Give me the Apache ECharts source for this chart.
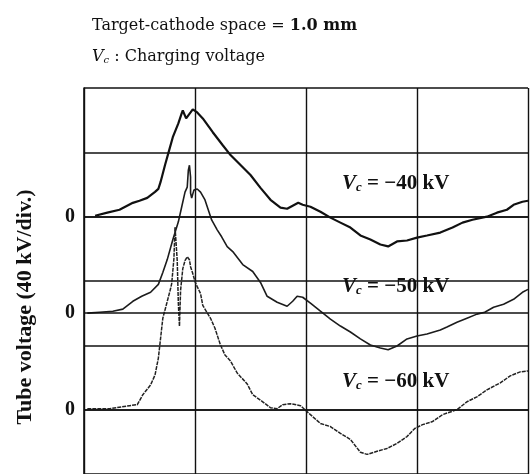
<!DOCTYPE html>
<html>
<head>
<meta charset="utf-8">
<script src="https://cdn.jsdelivr.net/npm/echarts@6/dist/echarts.min.js"></script>
<style>
  html, body { margin: 0; padding: 0; background: #fff; }
  #main { width: 530px; height: 474px; }
</style>
</head>
<body>
<div id="main"></div>
<script>
// time in divisions, tube voltage in kV (relative to each trace's own 0 line)
const t40 = [0.10, 0.21, 0.32, 0.44, 0.50, 0.57, 0.64, 0.67, 0.69, 0.73, 0.76, 0.80, 0.85, 0.88, 0.89, 0.92, 0.94, 0.96, 0.98, 1.02, 1.07, 1.16, 1.25, 1.32, 1.41, 1.50, 1.59, 1.68, 1.77, 1.83, 1.88, 1.93, 1.97, 2.04, 2.13, 2.22, 2.31, 2.40, 2.49, 2.58, 2.67, 2.74, 2.82, 2.91, 3.00, 3.09, 3.21, 3.32, 3.41, 3.50, 3.63, 3.72, 3.81, 3.87, 3.95, 4.00];
const v40 = [0.6, 2.5, 4.3, 8.6, 9.9, 11.7, 15.4, 17.3, 21.6, 32.1, 39.5, 49.4, 58.0, 64.2, 66.0, 61.1, 63.0, 64.8, 66.7, 64.8, 61.1, 52.5, 44.4, 38.3, 32.1, 25.9, 17.9, 10.5, 5.6, 4.9, 6.8, 8.6, 7.4, 6.2, 3.1, -0.6, -3.7, -6.8, -11.7, -14.2, -17.3, -18.5, -15.4, -14.8, -13.0, -11.7, -9.9, -6.8, -3.7, -1.9, 0, 2.5, 4.3, 7.4, 9.3, 9.9];

const t50 = [0.03, 0.14, 0.26, 0.35, 0.44, 0.52, 0.60, 0.67, 0.71, 0.75, 0.80, 0.85, 0.88, 0.91, 0.93, 0.94, 0.95, 0.96, 0.96, 0.97, 0.99, 1.02, 1.05, 1.09, 1.12, 1.15, 1.20, 1.24, 1.29, 1.34, 1.43, 1.52, 1.59, 1.65, 1.74, 1.83, 1.88, 1.92, 1.97, 2.04, 2.13, 2.22, 2.31, 2.40, 2.49, 2.58, 2.67, 2.74, 2.82, 2.91, 3.00, 3.09, 3.21, 3.27, 3.36, 3.45, 3.54, 3.61, 3.69, 3.78, 3.87, 3.95, 4.00];
const v50 = [0, 0.6, 1.2, 2.5, 7.4, 10.5, 13.0, 17.9, 25.3, 33.3, 45.7, 56.8, 66.0, 75.3, 78.4, 88.9, 92.0, 84.6, 74.7, 71.6, 76.5, 77.2, 75.3, 70.4, 64.2, 58.0, 51.8, 47.5, 41.4, 38.3, 30.2, 25.9, 19.1, 10.5, 6.8, 4.3, 7.4, 10.5, 9.9, 6.2, 1.2, -3.7, -8.0, -11.7, -16.0, -19.8, -21.6, -22.8, -20.4, -16.0, -14.2, -13.0, -10.5, -8.6, -5.6, -3.1, -0.6, 0.6, 3.7, 5.6, 8.6, 13.0, 14.8];

const t60 = [0.03, 0.23, 0.41, 0.48, 0.53, 0.60, 0.64, 0.67, 0.69, 0.71, 0.75, 0.78, 0.79, 0.81, 0.82, 0.84, 0.85, 0.86, 0.87, 0.89, 0.91, 0.93, 0.95, 0.96, 0.98, 1.00, 1.02, 1.05, 1.07, 1.14, 1.18, 1.23, 1.27, 1.32, 1.38, 1.47, 1.52, 1.61, 1.68, 1.74, 1.79, 1.86, 1.95, 1.99, 2.04, 2.13, 2.22, 2.31, 2.40, 2.49, 2.55, 2.64, 2.73, 2.82, 2.91, 2.98, 3.05, 3.14, 3.23, 3.36, 3.45, 3.54, 3.63, 3.75, 3.84, 3.93, 4.00];
const v60 = [0.6, 0.6, 2.5, 3.1, 9.3, 15.4, 21.6, 32.1, 44.4, 56.8, 67.3, 75.3, 78.4, 93.8, 113.6, 92.6, 66.0, 51.9, 74.1, 87.7, 92.6, 95.1, 93.2, 88.9, 84.6, 79.6, 76.5, 72.2, 64.8, 56.8, 50.6, 40.1, 34.0, 30.2, 22.8, 16.0, 9.3, 4.9, 1.2, 0.6, 3.1, 3.7, 2.5, 0, -3.1, -8.6, -10.5, -14.8, -18.5, -26.5, -27.8, -25.9, -24.1, -21.0, -16.7, -11.7, -9.3, -7.4, -3.1, 0, 4.9, 8.0, 12.3, 16.7, 21.0, 23.5, 24.1];

const seriesNames = ['Vc = -40 kV', 'Vc = -50 kV', 'Vc = -60 kV'];

const serif = '"DejaVu Serif", serif';          // headings (Century-like)
const times = '"Liberation Serif", serif';      // labels inside the plot

// each trace sits on its own 0 line, 40 kV per division
const baseline = [160, 100, 40];
const traces = [[t40, v40], [t50, v50], [t60, v60]];
const lineStyles = [
  { color: '#111', width: 2.2 },
  { color: '#1c1c1c', width: 1.6 },
  { color: '#222', width: 1.5, type: [4, 1] }
];

const series = traces.map(([t, v], k) => ({
  name: seriesNames[k],
  type: 'line',
  showSymbol: false,
  smooth: false,
  animation: false,
  lineStyle: lineStyles[k],
  data: t.map((x, i) => [x, v[i] + baseline[k]]),
  markLine: {
    silent: true,
    symbol: 'none',
    animation: false,
    lineStyle: { color: '#111', width: 1.6, type: 'solid' },
    label: {
      position: 'start', formatter: '0', distance: 9,
      fontFamily: times, fontWeight: 'bold', fontSize: 20, color: '#111'
    },
    data: [{ yAxis: baseline[k] }]
  }
}));

function vcLabel(top, value) {
  return {
    type: 'text', left: 342, top: top,
    style: {
      text: '{v|V}{s|c}{n| = ' + value + ' kV}',
      rich: {
        v: { fontFamily: times, fontStyle: 'italic', fontWeight: 'bold', fontSize: 21, fill: '#111' },
        s: { fontFamily: times, fontStyle: 'italic', fontWeight: 'bold', fontSize: 13, fill: '#111', padding: [9, 0, 0, 0] },
        n: { fontFamily: times, fontWeight: 'bold', fontSize: 21, fill: '#111' }
      }
    }
  };
}

const chart = echarts.init(document.getElementById('main'));
chart.setOption({
  backgroundColor: '#fff',
  animation: false,
  title: [
    {
      left: 87, top: 13,
      text: '{n|Target-cathode space = }{b|1.0 mm}',
      textStyle: {
        fontWeight: 'normal',
        rich: {
          n: { fontFamily: serif, fontSize: 16, fontWeight: 'normal', color: '#111' },
          b: { fontFamily: serif, fontSize: 16, fontWeight: 'bold', color: '#111' }
        }
      }
    },
    {
      left: 87, top: 43,
      text: '{v|V}{s|c}{n| : Charging voltage}',
      textStyle: {
        fontWeight: 'normal',
        rich: {
          v: { fontFamily: serif, fontStyle: 'italic', fontWeight: 'normal', fontSize: 16, color: '#111' },
          s: { fontFamily: serif, fontStyle: 'italic', fontWeight: 'normal', fontSize: 10, color: '#111', padding: [7, 0, 0, 0] },
          n: { fontFamily: serif, fontWeight: 'normal', fontSize: 16, color: '#111' }
        }
      }
    }
  ],
  graphic: [
    {
      type: 'text', x: 25, y: 307, rotation: Math.PI / 2,
      style: {
        text: 'Tube voltage (40 kV/div.)',
        fontFamily: times, fontWeight: 'bold', fontSize: 22, fill: '#111',
        align: 'center', verticalAlign: 'middle'
      }
    },
    vcLabel(173, '\u221240'),
    vcLabel(276, '\u221250'),
    vcLabel(371, '\u221260')
  ],
  grid: { left: 84, top: 88, right: 2, bottom: -3 },
  xAxis: {
    type: 'value', min: 0, max: 4, interval: 1,
    axisLine: { show: false }, axisTick: { show: false }, axisLabel: { show: false },
    splitLine: { show: true, lineStyle: { color: '#111', width: 1.4 } }
  },
  yAxis: {
    type: 'value', min: 0, max: 240, interval: 40,
    axisLine: { show: true, lineStyle: { color: '#111', width: 1.6 } },
    axisTick: { show: false }, axisLabel: { show: false },
    splitLine: { show: true, lineStyle: { color: '#111', width: 1.6 } }
  },
  series: series
});
window.onresize = function () {
  chart.resize();
};
</script>
</body>
</html>
